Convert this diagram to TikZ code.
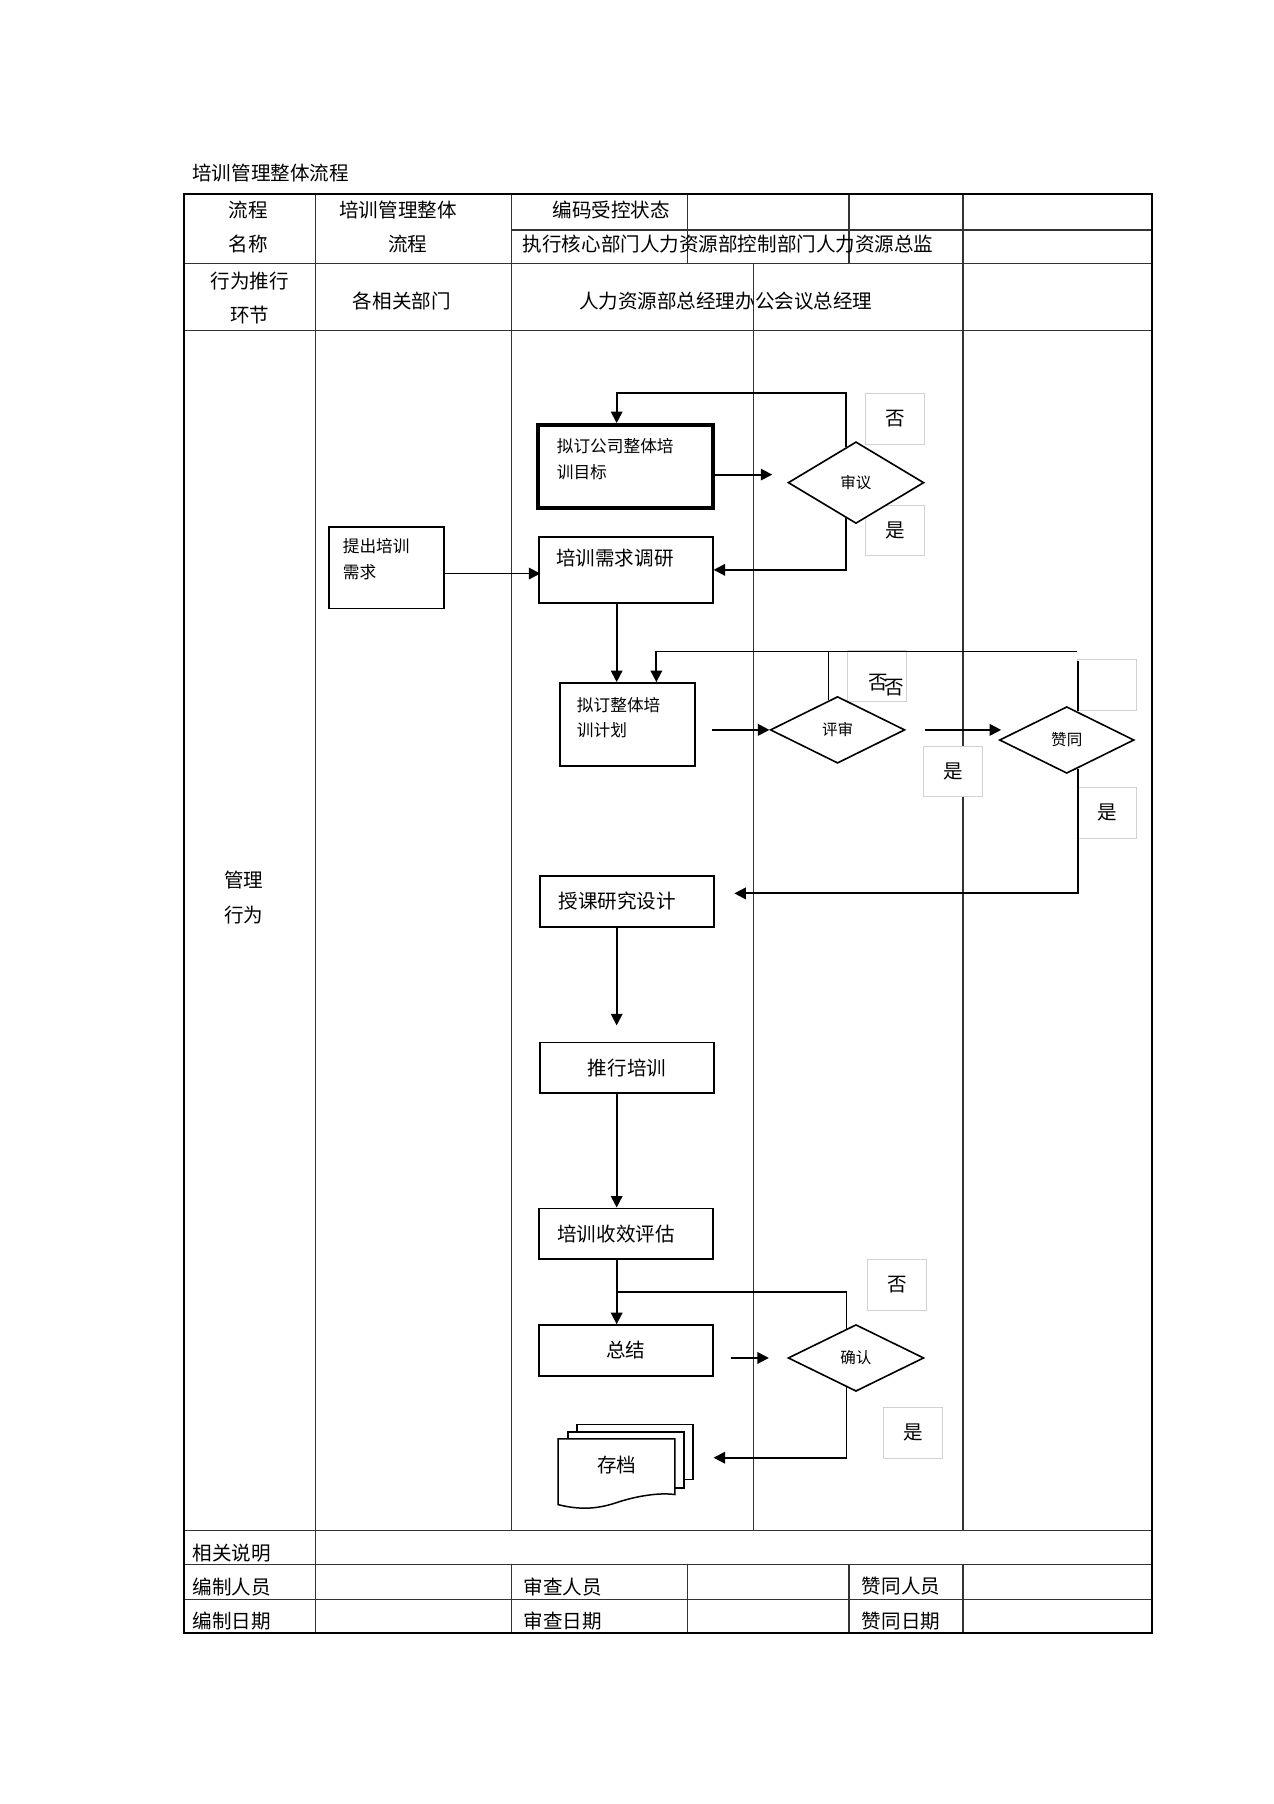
\documentclass[tikz,border=0pt]{standalone}
\usepackage{fontspec}
\setmainfont{Noto Sans CJK SC}
\usepackage{tikz}
\usetikzlibrary{calc}
\usetikzlibrary{shapes.geometric}
\usetikzlibrary{arrows.meta}

\tikzset{
	txt/.style={inner sep=0pt, font=\fontsize{17}{30}\selectfont},
	tabline/.style={line width=1.1pt, black!80},
	box/.style={draw, line width=1.5pt, inner sep=0pt, minimum width=151pt, minimum height=44pt, font=\fontsize{17}{22}\selectfont},
	lbox/.style={box, align=left, inner xsep=16pt, text width=119pt},
	sbox/.style={box, align=left, font=\fontsize{14.5}{22}\selectfont},
	choice/.style={diamond, draw, fill=white, line width=1.4pt, inner sep=0pt, minimum width=117pt, minimum height=58pt, font=\fontsize{13.5}{15}\selectfont},
	tag/.style={draw=black!18, fill=white, line width=0.8pt, inner sep=0pt, minimum width=51pt, minimum height=44pt, font=\fontsize{17}{20}\selectfont},
	flow/.style={line width=1.6pt},
	arr/.style={flow, -{Triangle[length=10pt, width=10pt]}},
	sheet/.style={draw, fill=white, line width=1.3pt},
}

\begin{document}
\begin{tikzpicture}[x=1pt, y=-1pt]
	\useasboundingbox (0,0) rectangle (1107,1568);

	\node[txt, anchor=west] (title) at (167,150.6) {培训管理整体流程};

	\foreach \y in {229,287.5,1330,1360,1390}
	\draw[tabline] (160,\y) -- (1001,\y);
	\draw[tabline] (444.8,200) -- (1001,200);
	\draw[tabline] (274.3,169) -- (274.3,1419.3);
	\foreach \x in {444.8,837}
	{\draw[tabline] (\x,169) -- (\x,1330); \draw[tabline] (\x,1360) -- (\x,1419.3);}
	\foreach \x in {597.5,737.9}
	{\draw[tabline] (\x,169) -- (\x,229); \draw[tabline] (\x,1360) -- (\x,1419.3);}
	\draw[tabline] (655,229) -- (655,1330);
	\draw[line width=1.8pt] (160,169) rectangle (1001,1419.3);

	\node[txt, align=center] (lcname) at (216,197.4) {流程\\名称};
	\node[txt] (pname1) at (346,182.5) {培训管理整体};
	\node[txt] (pname2) at (354.3,212.3) {流程};
	\node[txt] (code) at (531.4,182.5) {编码受控状态};
	\node[txt, anchor=west] (dept) at (454.2,212.3) {执行核心部门人力资源部控制部门人力资源总监};
	\node[txt, align=center] (lcstep) at (217,259) {行为推行\\环节};
	\node[txt] (alldept) at (349.3,262) {各相关部门};
	\node[txt] (hr) at (630.8,262) {人力资源部总经理办公会议总经理};
	\node[txt, align=center] (lcact) at (212,780) {管理\\行为};
	\node[txt, anchor=west] (note) at (167.2,1349.7) {相关说明};
	\foreach \x/\pp/\dd [count=\i] in {167.2/编制人员/编制日期, 454.8/审查人员/审查日期, 749/赞同人员/赞同日期}
	{\node[txt, anchor=west] (who\i) at (\x,1379) {\pp}; \node[txt, anchor=west] (when\i) at (\x,1409) {\dd};}

	\node[tag] (no1) at (778,364) {否};
	\node[tag] (yes1) at (778,461) {是};
	\node[tag] (no2) at (762.3,587.5) {\hspace*{16pt}\raisebox{-12pt}[0pt][0pt]{否\kern-3pt\raisebox{-4pt}{否}}};
	\node[tag] (yes2) at (828.5,670.5) {是};
	\node[tag] (blank3) at (962.3,595.2) {};
	\node[tag] (yes3) at (962.3,706.5) {是};
	\node[tag] (no4) at (779.5,1116.6) {否};
	\node[tag] (yes4) at (793.6,1245.5) {是};

	\node[sbox, minimum width=152pt, line width=3.5pt, inner xsep=16.5pt, text width=119pt, text height=24pt, text depth=48pt] (goal) at (543.5,405.5) {拟订公司整体培\\训目标};
	\node[sbox, minimum width=100pt, line width=1.3pt, inner xsep=12pt, text width=76pt, text height=22.5pt, text depth=48.5pt] (need) at (336,493.5) {提出培训\\需求};
	\node[lbox, inner xsep=15pt, text width=121pt, text height=25pt, text depth=32.5pt] (survey) at (544,495.3) {培训需求调研};
	\node[sbox, minimum width=117pt, inner xsep=14.5pt, text width=88pt, text height=24.4pt, text depth=47.6pt] (plan) at (545.5,629.6) {拟订整体培\\训计划};
	\node[lbox] (design) at (545,783.5) {授课研究设计};
	\node[box] (train) at (545,928) {推行培训};
	\node[lbox] (eval) at (544,1072.3) {培训收效评估};
	\node[box] (sum) at (544,1173.7) {总结};

	\node[choice, minimum width=118pt, minimum height=71pt] (review1) at (744,419.5) {审议};
	\node[choice] (review2) at (728,634.4) {评审};
	\node[choice] (agree) at (927.2,643.2) {赞同};
	\node[choice, minimum width=118pt] (confirm) at (744,1180.3) {确认};

	\begin{scope}[shift={(536,1273)}]
		\draw[sheet] (-34.3,-34.7) rectangle (66.5,13);
		\draw[sheet] (-42.1,-28.3) rectangle (58.7,20.3);
		\draw[sheet] (-50.8,-22.3) -- (50.6,-22.3) -- (50.6,26) .. controls (35,24) and (15,28) .. (0,33) .. controls (-15,38) and (-30,40) .. (-50.8,34.8) -- cycle;
	\end{scope}
	\node[txt, minimum width=101pt] (doc) at (536,1273) {存档};

	\coordinate (spine) at (536,0);
	\coordinate (top2) at (936,566.3);
	\draw[arr] ([yshift=-7pt]goal.east) -- ++(50,0);
	\draw[arr] (review1.105) -- ++(0,-47) -| (goal.north -| spine);
	\draw[arr] (review1.255) |- (survey.east);
	\draw[arr] ([yshift=-5pt]need.east) -- ++(83,0);
	\draw[arr] (survey.south -| spine) -- (plan.north -| spine);
	\draw[flow] (review2.107) |- (top2);
	\draw[arr] (top2) -| ([xshift=25pt]plan.north);
	\draw[flow] (agree.69) -- ++(0,-44);
	\draw[arr] ([xshift=-50pt]review2.west) -- (review2.west);
	\draw[arr] ([xshift=17pt]review2.east) -- ++(66,0);
	\draw[arr] (agree.291) |- ([shift={(17pt,7pt)}]design.east);
	\draw[arr] (design.south -| spine) -- ++(0,85);
	\draw[arr] (train.south -| spine) -- (eval.north -| spine);
	\draw[arr] (eval.south -| spine) -- (sum.north -| spine);
	\draw[flow] ($(eval.south -| spine)+(0,28)$) -| (confirm.108);
	\draw[arr] ([xshift=-49pt]confirm.west) -- ([xshift=-16pt]confirm.west);
	\draw[arr] (confirm.252) |- ([shift={(33.5pt,6pt)}]doc.east);
\end{tikzpicture}
\end{document}
